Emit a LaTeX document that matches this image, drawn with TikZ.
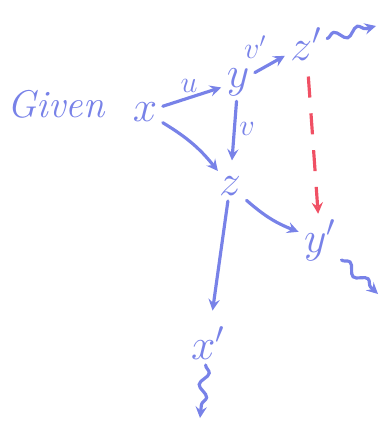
\documentclass[tikz,border=0pt]{standalone}
\usepackage{xcolor}
\usepackage{tikz}
\usetikzlibrary{decorations.pathmorphing}
\definecolor{PenBlue}{RGB}{120,130,232}
\definecolor{PenRed}{RGB}{240,80,100}

\begin{document}
\begin{tikzpicture}[
  x=0.02cm, y=-0.02cm,
  var/.style={
    text=PenBlue,
    font=\fontsize{25}{30}\selectfont,
    inner sep=3pt,
  },
  lbl/.style={
    text=PenBlue,
    font=\fontsize{18}{22}\selectfont,
    inner sep=2pt,
  },
  arr/.style={->, >=stealth, line width=1.8pt, line cap=round, PenBlue},
  wavy/.style={arr, decorate,
    decoration={snake, amplitude=2.5pt, segment length=14pt, post length=5pt}},
  hint/.style={->, >=stealth, line width=1.8pt, PenRed, dash pattern=on 12pt off 9pt},
]
  \useasboundingbox (0,0) rectangle (390,439);

  \node[var, font=\fontsize{22}{26}\selectfont] (gvn) at (56,104) {\itshape Given};
  \node[var] (x) at (145,112) {$x$};
  \node[var] (y) at (238,82) {$y$};
  \node[var] (zp) at (306,44) {$z'$};
  \node[var] (z) at (230,186) {$z$};
  \node[var] (yp) at (320,240) {$y'$};
  \node[var] (xp) at (208,343) {$x'$};

  \coordinate (zp-out) at (376,26);
  \coordinate (yp-out) at (378,294);
  \coordinate (xp-out) at (200,418);

  \draw[arr] (x) -- node[lbl, above, pos=0.45] {$u$} (y);
  \draw[arr] (y) -- node[lbl, above left, pos=0.55] {$v'$} (zp);
  \draw[arr, shorten >=6pt] (y) -- node[lbl, right, pos=0.4] {$v$} (z);
  \draw[arr] (x) to[bend left=10] (z);
  \draw[arr] (z) to[bend right=10] (yp);
  \draw[arr, shorten >=6pt] (z) -- (xp);
  \draw[hint, shorten <=6pt] (zp) -- (yp);

  \draw[wavy] (zp) -- (zp-out);
  \draw[wavy] (yp) -- (yp-out);
  \draw[wavy] (xp) -- (xp-out);
\end{tikzpicture}
\end{document}
